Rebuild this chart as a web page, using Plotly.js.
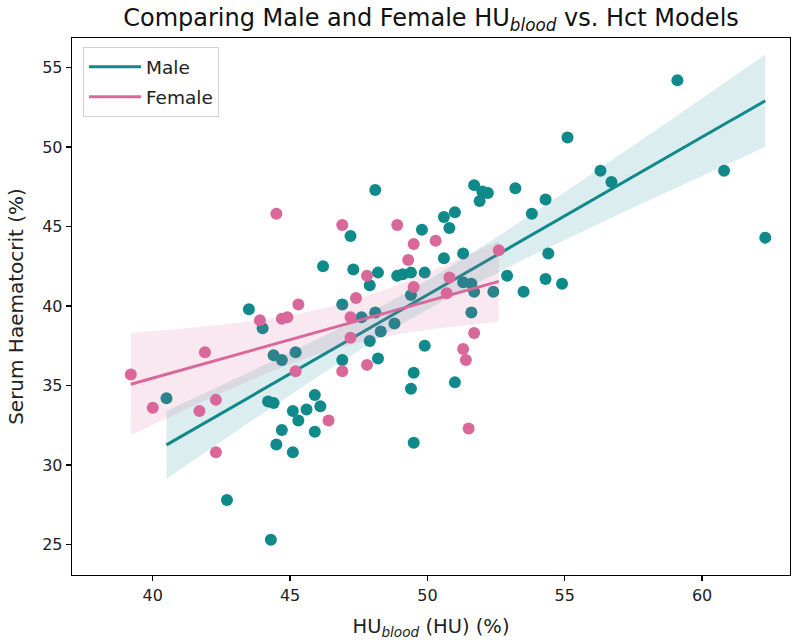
<!DOCTYPE html>
<html>
<head>
<meta charset="utf-8">
<script src="https://cdn.plot.ly/plotly-3.0.1.min.js"></script>
<style>
  html, body { margin: 0; padding: 0; background: #fff; }
  #chart { width: 800px; height: 641px; }
</style>
</head>
<body>
<div id="chart"></div>
<script>
// HU_blood (%) and serum haematocrit (%) per patient, split by sex
const maleHU = [40.5, 42.7, 44.3, 43.5, 44.0, 44.4, 44.7, 45.2, 44.2, 44.4, 45.9, 45.6, 46.1, 45.1, 45.3, 44.7, 45.9, 44.5, 45.1, 46.9,
                47.9, 48.2, 48.3, 47.6, 48.1, 48.8, 46.9, 46.2, 47.3, 48.2, 47.9, 48.9, 49.1, 49.4, 49.9, 49.4, 48.1, 47.2, 49.8, 50.6,
                51.0, 50.8, 50.6, 51.3, 49.9, 49.5, 49.4, 51.0, 49.5, 51.6, 51.3, 51.6, 51.7, 52.4, 52.9, 53.5, 54.3, 54.9, 54.4, 53.8,
                54.3, 53.2, 51.7, 52.0, 52.2, 51.9, 55.1, 56.3, 56.7, 59.1, 60.8, 62.3];
const maleHct = [34.2, 27.8, 25.3, 39.8, 38.6, 36.9, 36.6, 37.1, 34.0, 33.9, 34.4, 33.5, 33.7, 33.4, 32.8, 32.2, 32.1, 31.3, 30.8, 36.6,
                 37.8, 36.7, 38.4, 39.3, 39.6, 38.9, 40.1, 42.5, 42.3, 42.1, 41.3, 41.9, 42.0, 42.1, 42.1, 40.7, 47.3, 44.4, 44.8, 45.6,
                 45.9, 44.9, 43.0, 43.3, 37.5, 35.8, 34.8, 35.2, 31.4, 39.6, 41.5, 41.4, 40.9, 40.9, 41.9, 40.9, 41.7, 41.4, 43.3, 45.8,
                 46.7, 47.4, 47.6, 47.2, 47.1, 46.6, 50.6, 48.5, 47.8, 54.2, 48.5, 44.3];
const femaleHU = [39.2, 40.0, 41.9, 41.7, 42.3, 42.3, 44.5, 43.9, 44.7, 44.9, 45.3, 45.2, 46.4, 46.9, 47.2, 46.9,
                  47.4, 47.2, 47.8, 47.8, 48.9, 49.5, 50.3, 49.3, 49.5, 50.8, 50.7, 52.6, 51.7, 51.3, 51.4, 51.5];
const femaleHct = [35.7, 33.6, 37.1, 33.4, 34.1, 30.8, 45.8, 39.1, 39.2, 39.3, 40.1, 35.9, 32.8, 35.9, 38.0, 45.1,
                   40.5, 39.3, 41.9, 36.3, 45.1, 43.9, 44.1, 42.9, 41.2, 41.8, 40.8, 43.5, 38.3, 37.3, 36.6, 32.3];

const groups = ['Male', 'Female'];
const xTicks = [40, 45, 50, 55, 60];
const yTicks = [25, 30, 35, 40, 45, 50, 55];

const TEAL = '#10898a';
const PINK = '#d9689a';

// Two-sided 95% critical value of Student's t (Cornish-Fisher expansion)
function tCrit(df) {
  const z = 1.959964;
  return z + (z ** 3 + z) / (4 * df) + (5 * z ** 5 + 16 * z ** 3 + 3 * z) / (96 * df * df);
}

// Ordinary least squares fit with a 95% confidence band for the mean response
function regression(x, y, steps) {
  const n = x.length;
  const mx = x.reduce((s, v) => s + v, 0) / n;
  const my = y.reduce((s, v) => s + v, 0) / n;
  let sxx = 0, sxy = 0;
  for (let i = 0; i < n; i++) { sxx += (x[i] - mx) ** 2; sxy += (x[i] - mx) * (y[i] - my); }
  const b = sxy / sxx, a = my - b * mx;
  let sse = 0;
  for (let i = 0; i < n; i++) sse += (y[i] - a - b * x[i]) ** 2;
  const s = Math.sqrt(sse / (n - 2));
  const t = tCrit(n - 2);
  const lo = Math.min(...x), hi = Math.max(...x);
  const xs = [], fit = [], up = [], dn = [];
  for (let k = 0; k <= steps; k++) {
    const xv = lo + (hi - lo) * k / steps;
    const yv = a + b * xv;
    const half = t * s * Math.sqrt(1 / n + (xv - mx) ** 2 / sxx);
    xs.push(xv); fit.push(yv); up.push(yv + half); dn.push(yv - half);
  }
  return { xs, fit, up, dn };
}

function layers(name, x, y, color, bandColor) {
  const r = regression(x, y, 120);
  return [
    { type: 'scatter', mode: 'markers', x: x, y: y, showlegend: false, hoverinfo: 'skip', legendgroup: name,
      marker: { size: 12, color: color, line: { width: 0 } } },
    { type: 'scatter', mode: 'lines', x: r.xs.concat(r.xs.slice().reverse()), y: r.up.concat(r.dn.slice().reverse()),
      fill: 'toself', fillcolor: bandColor, line: { width: 0 }, showlegend: false, hoverinfo: 'skip', legendgroup: name },
    { type: 'scatter', mode: 'lines', x: r.xs, y: r.fit, name: name, hoverinfo: 'skip', legendgroup: name,
      line: { color: color, width: 3 } }
  ];
}

const data = [
  ...layers(groups[0], maleHU, maleHct, TEAL, 'rgba(16,137,138,0.15)'),
  ...layers(groups[1], femaleHU, femaleHct, PINK, 'rgba(217,104,154,0.15)')
];

const FONT = 'DejaVu Sans, sans-serif';

const layout = {
  width: 800, height: 641,
  paper_bgcolor: '#fff', plot_bgcolor: '#fff',
  margin: { l: 72, r: 10, t: 38, b: 66 },
  font: { family: FONT, size: 16, color: '#222' },
  title: {
    text: 'Comparing Male and Female HU<sub><i>blood</i></sub> vs. Hct Models',
    font: { family: FONT, size: 24, color: '#111' },
    x: 0.5, xanchor: 'center', xref: 'paper',
    y: 0.972, yanchor: 'middle', yref: 'container'
  },
  xaxis: {
    range: [37.06, 63.2], tickvals: xTicks, ticktext: xTicks.map(String),
    showgrid: false, zeroline: false, showline: true, linecolor: '#000', linewidth: 1.3, mirror: true,
    ticks: 'outside', ticklen: 5, tickwidth: 1.2, tickcolor: '#000',
    tickfont: { family: FONT, size: 16, color: '#222' },
    title: { text: 'HU<sub><i>blood</i></sub> (HU) (%)', font: { family: FONT, size: 19.5, color: '#222' }, standoff: 15 }
  },
  yaxis: {
    range: [23.09, 56.85], tickvals: yTicks, ticktext: yTicks.map(String),
    showgrid: false, zeroline: false, showline: true, linecolor: '#000', linewidth: 1.3, mirror: true,
    ticks: 'outside', ticklen: 5, tickwidth: 1.2, tickcolor: '#000',
    tickfont: { family: FONT, size: 16, color: '#222' },
    title: { text: 'Serum Haematocrit (%)', font: { family: FONT, size: 20, color: '#222' }, standoff: 13 }
  },
  legend: {
    x: 0.0153, y: 0.983, xanchor: 'left', yanchor: 'top',
    bgcolor: 'rgba(255,255,255,0.85)', bordercolor: '#d0d0d0', borderwidth: 1,
    itemwidth: 52, tracegroupgap: 3, traceorder: 'grouped',
    font: { family: FONT, size: 18.5, color: '#222' }
  },
  showlegend: true
};

Plotly.newPlot('chart', data, layout, { displayModeBar: false, staticPlot: true });
</script>
</body>
</html>
